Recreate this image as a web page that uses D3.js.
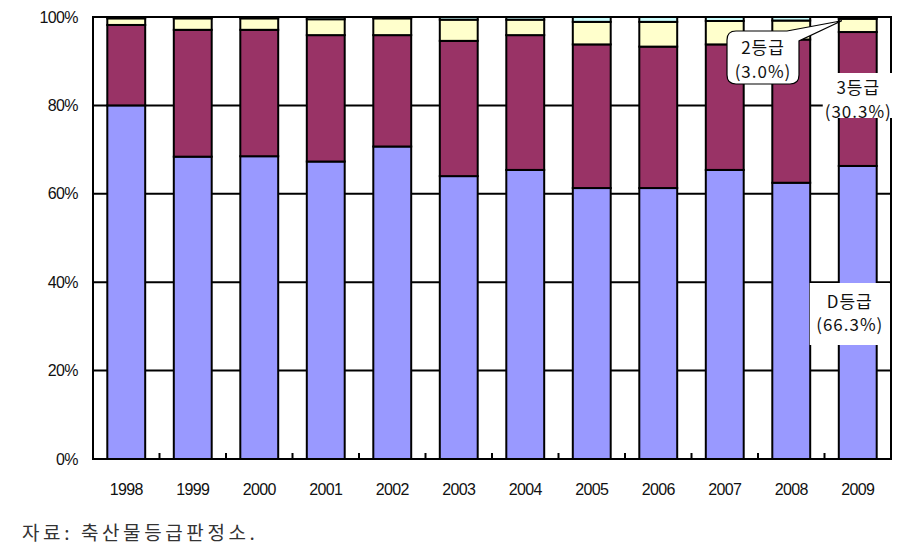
<!DOCTYPE html>
<html><head><meta charset="utf-8">
<script src="https://cdn.jsdelivr.net/npm/d3@7"></script>
<style>
body{margin:0;background:#fff;}
svg{display:block;}
</style></head>
<body>
<svg id="chart" width="901" height="549"></svg>
<script>
// ---- data ----
const years = ["1998","1999","2000","2001","2002","2003","2004","2005","2006","2007","2008","2009"];
const gradeD = [80.0, 68.4, 68.5, 67.3, 70.7, 64.0, 65.4, 61.3, 61.3, 65.4, 62.5, 66.3];
const grade3 = [18.2, 28.7, 28.6, 28.6, 25.2, 30.6, 30.5, 32.5, 32.0, 28.4, 32.4, 30.3];
const grade2 = [1.5, 2.6, 2.6, 3.6, 3.8, 4.8, 3.5, 5.1, 5.6, 5.3, 4.3, 3.0];
const grade1 = [0.3, 0.3, 0.3, 0.5, 0.3, 0.6, 0.6, 1.1, 1.1, 0.9, 0.8, 0.4];
const seriesNames = ["D등급","3등급","2등급","1등급"];
const yTicks = [0, 20, 40, 60, 80, 100];
const sourceText = "자료:  축산물등급판정소.";

// ---- layout ----
const svg = d3.select("#chart");
const L = 93, R = 891, T = 17, B = 459;
const colors = ["#9999FF", "#993366", "#FFFFCC", "#CCFFFF"];

const rows = years.map((y, i) => ({year: y, "D등급": gradeD[i], "3등급": grade3[i], "2등급": grade2[i], "1등급": grade1[i]}));
const stacked = d3.stack().keys(seriesNames)(rows);

const x = d3.scaleBand().domain(years).range([L, R]).paddingInner(0.43).paddingOuter(0.215);
const y = d3.scaleLinear().domain([0, 100]).range([B, T]);

// gridlines
svg.append("g").selectAll("line").data(yTicks.filter(d => d > 0 && d < 100)).join("line")
  .attr("x1", L).attr("x2", R).attr("y1", d => y(d)).attr("y2", d => y(d))
  .attr("stroke", "#000").attr("stroke-width", 2);

// bars
svg.append("g").selectAll("g").data(stacked).join("g")
  .attr("fill", (d, i) => colors[i])
  .selectAll("rect").data(d => d).join("rect")
  .attr("x", d => x(d.data.year))
  .attr("width", x.bandwidth())
  .attr("y", d => y(d[1]))
  .attr("height", d => y(d[0]) - y(d[1]))
  .attr("stroke", "#000").attr("stroke-width", 2);

// frame
svg.append("rect").attr("x", L).attr("y", T).attr("width", R - L).attr("height", B - T)
  .attr("fill", "none").attr("stroke", "#000").attr("stroke-width", 2);

// x tick marks between categories
const step = x.step();
svg.append("g").selectAll("line").data(d3.range(1, years.length)).join("line")
  .attr("x1", i => L + i * step).attr("x2", i => L + i * step)
  .attr("y1", B).attr("y2", B - 6)
  .attr("stroke", "#000").attr("stroke-width", 2);

// y labels
svg.append("g").selectAll("text").data(yTicks).join("text")
  .attr("x", 78).attr("y", d => y(d)).attr("dy", "0.35em")
  .attr("text-anchor", "end")
  .style("font-family", "'Liberation Sans', Arial, sans-serif").style("font-size", "16px")
  .attr("fill", "#111").attr("letter-spacing", "-0.6")
  .text(d => d + "%");

// x labels
svg.append("g").selectAll("text").data(years).join("text")
  .attr("x", d => x(d) + x.bandwidth() / 2).attr("y", 495)
  .attr("text-anchor", "middle")
  .style("font-family", "'Liberation Sans', Arial, sans-serif").style("font-size", "16px")
  .attr("fill", "#111").attr("letter-spacing", "-0.6")
  .text(d => d);

// annotations
const last = years.length - 1;
const cx = x(years[last]) + x.bandwidth() / 2;
const kfont = "'Noto Sans CJK KR', sans-serif";

function addText(tx, ty, t) {
  svg.append("text").attr("x", tx).attr("y", ty).attr("text-anchor", "middle")
    .style("font-family", kfont).style("font-size", "17px").attr("letter-spacing", "1")
    .attr("fill", "#111").text(t);
}
function labelBox(x0, y0, w, h, lines, ly) {
  svg.append("rect").attr("x", x0).attr("y", y0).attr("width", w).attr("height", h).attr("fill", "#fff");
  lines.forEach((t, i) => addText(x0 + w / 2, ly[i], t));
}
labelBox(cx - 35, 73, 71, 45, ["3등급", "(" + grade3[last].toFixed(1) + "%)"], [94, 118]);
labelBox(cx - 48, 283, 80, 62, ["D등급", "(" + gradeD[last].toFixed(1) + "%)"], [308, 331]);

// callout for 2등급
const tipX = x(years[last]) + 3;
const tipY = y(gradeD[last] + grade3[last] + grade2[last]) + 2;
const bx0 = 727, bx1 = 799, by0 = 31, by1 = 84, r = 9;
const path = `M${bx0 + r},${by0} L${bx1 - 12},${by0} L${tipX},${tipY} L${bx1},${by0 + 10} L${bx1},${by1 - r} Q${bx1},${by1} ${bx1 - r},${by1} L${bx0 + r},${by1} Q${bx0},${by1} ${bx0},${by1 - r} L${bx0},${by0 + r} Q${bx0},${by0} ${bx0 + r},${by0} Z`;
svg.append("path").attr("d", path).attr("fill", "#fff").attr("stroke", "#000").attr("stroke-width", 1.2);
addText((bx0 + bx1) / 2, 54, "2등급");
addText((bx0 + bx1) / 2, 78, "(" + grade2[last].toFixed(1) + "%)");

// source
svg.append("text").attr("x", 22).attr("y", 540)
  .style("font-family", kfont).style("font-size", "19px").attr("letter-spacing", "3.6")
  .attr("fill", "#333").text(sourceText);
</script>
</body></html>
